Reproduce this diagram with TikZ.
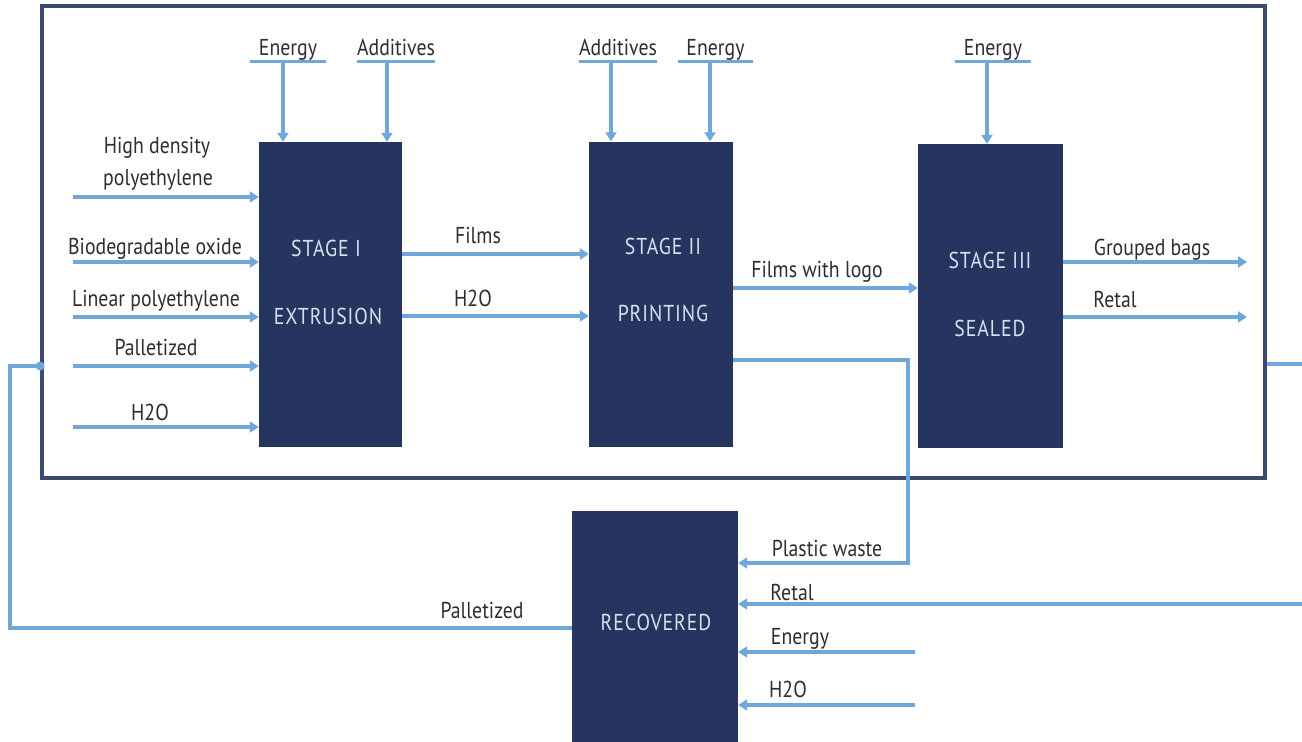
\documentclass[tikz,border=0pt]{standalone}
\usepackage{fontspec}
\setmainfont{PT Sans}[FakeStretch=0.86]
\usetikzlibrary{arrows.meta}
\definecolor{navy}{HTML}{25355F}
\definecolor{flowc}{HTML}{6FA7DB}
\definecolor{framec}{HTML}{3B4A6C}
\definecolor{txt}{HTML}{2E2E2E}
\definecolor{boxtxt}{HTML}{D9E0EC}
\begin{document}
\begin{tikzpicture}[x=1pt,y=-1pt,
  flow/.style={draw=flowc,line width=3.3pt,-{Triangle[length=9pt,width=11pt]}},
  plain/.style={draw=flowc,line width=3.3pt},
  stagebox/.style={fill=navy,draw=none,inner sep=0pt},
  lbl/.style={font=\fontsize{23}{25}\selectfont,text=txt,inner sep=0pt,anchor=base},
  blbl/.style={font=\fontsize{23}{25}\selectfont\addfontfeature{LetterSpace=4},text=boxtxt,inner sep=0pt,anchor=base},
  toplbl/.style={lbl,text depth=6pt,minimum width=76pt}]
\useasboundingbox (0,0) rectangle (1302,742);
\fill[white] (0,0) rectangle (1302,742);

% frame
\node[draw=framec,line width=3.8pt,minimum width=1223pt,minimum height=472pt,inner sep=0pt] (frame) at (653.5,242) {};

% boxes
\node[stagebox,minimum width=143pt,minimum height=305pt] (s1) at (330.5,294.5) {};
\node[stagebox,minimum width=144pt,minimum height=305pt] (s2) at (661,294) {};
\node[stagebox,minimum width=145pt,minimum height=304pt] (s3) at (990.5,296) {};
\node[stagebox,minimum width=166pt,minimum height=231pt] (rec) at (655,626.5) {};

% box texts
\node[blbl] (s1a) at (326,256) {STAGE I};
\node[blbl] (s1b) at (328,324) {EXTRUSION};
\node[blbl] (s2a) at (663,254) {STAGE II};
\node[blbl] (s2b) at (663,321) {PRINTING};
\node[blbl] (s3a) at (990,268) {STAGE III};
\node[blbl] (s3b) at (990,336) {SEALED};
\node[blbl] (reca) at (656,630) {RECOVERED};

% top inputs
\node[toplbl] (tE1) at (288,55) {Energy};
\node[toplbl,minimum width=68pt] (tA1) at (396,55) {Additives};
\node[toplbl] (tA2) at (618,55) {Additives};
\node[toplbl,minimum width=75pt] (tE2) at (715.5,55) {Energy};
\node[toplbl] (tE3) at (993,55) {Energy};
\foreach \n in {tE1,tA1,tA2,tE2,tE3}{
  \draw[plain,line width=2.8pt] (\n.south west) -- (\n.south east);
}
\coordinate (cE1) at (283,61);
\coordinate (cA1) at (387,61);
\coordinate (cA2) at (611,61);
\coordinate (cE2) at (710,61);
\coordinate (cE3) at (987,61);
\draw[flow] (cE1) -- (cE1 |- s1.north);
\draw[flow] (cA1) -- (cA1 |- s1.north);
\draw[flow] (cA2) -- (cA2 |- s2.north);
\draw[flow] (cE2) -- (cE2 |- s2.north);
\draw[flow] (cE3) -- (cE3 |- s3.north);

% left inputs to stage I
\node[lbl] (hd1) at (157,153) {High density};
\node[lbl] (hd2) at (158,185) {polyethylene};
\node[lbl] (bio) at (155,254) {Biodegradable oxide};
\node[lbl] (lin) at (156,306) {Linear polyethylene};
\node[lbl] (pal) at (156,355) {Palletized};
\node[lbl] (h1) at (150,420) {H2O};
\coordinate (iHD) at (73,197);
\coordinate (iBO) at (73,262);
\coordinate (iLP) at (73,317);
\coordinate (iPA) at (73,366);
\coordinate (iH) at (73,427);
\foreach \c in {iHD,iBO,iLP,iPA,iH}{
  \draw[flow] (\c) -- (\c -| s1.west);
}

% stage I -> stage II
\node[lbl] (films) at (478,243) {Films};
\node[lbl] (h2) at (473,306) {H2O};
\coordinate (yF) at (0,254);
\coordinate (yH) at (0,316);
\draw[flow] (yF -| s1.east) -- (yF -| s2.west);
\draw[flow] (yH -| s1.east) -- (yH -| s2.west);

% stage II -> stage III
\node[lbl] (fwl) at (817,277) {Films with logo};
\coordinate (yL) at (0,288);
\draw[flow] (yL -| s2.east) -- (yL -| s3.west);

% stage III outputs
\node[lbl] (gb) at (1152,255) {Grouped bags};
\node[lbl] (ret1) at (1115,307) {Retal};
\coordinate (oG) at (1247,262);
\coordinate (oR) at (1247,317);
\draw[flow] (oG -| s3.east) -- (oG);
\draw[flow] (oR -| s3.east) -- (oR);

% plastic waste loop
\node[lbl] (pw) at (827,556) {Plastic waste};
\coordinate (wc) at (908,360);
\coordinate (wy) at (0,563);
\draw[flow] (wc -| s2.east) -- (wc) |- (wy -| rec.east);

% retal loop (right)
\coordinate (rr) at (1302,364);
\draw[plain] (rr -| frame.east) -- (rr);
\node[lbl] (ret2) at (792,600) {Retal};
\coordinate (rt) at (1302,604);
\draw[flow] (rt) -- (rt -| rec.east);

% recovered other inputs
\node[lbl] (en4) at (800,644) {Energy};
\node[lbl] (h4) at (788,697) {H2O};
\coordinate (re) at (915,652);
\coordinate (rh) at (915,705);
\draw[flow] (re) -- (re -| rec.east);
\draw[flow] (rh) -- (rh -| rec.east);

% palletized loop (left)
\node[lbl] (pal2) at (482,618) {Palletized};
\coordinate (pl) at (10,628);
\coordinate (pt) at (10,366);
\draw[plain] (pl -| rec.west) -- (pl) -- (pt) -- (pt -| frame.west);
\fill[flowc] (pt -| frame.west) circle (4.5pt);
\end{tikzpicture}
\end{document}
